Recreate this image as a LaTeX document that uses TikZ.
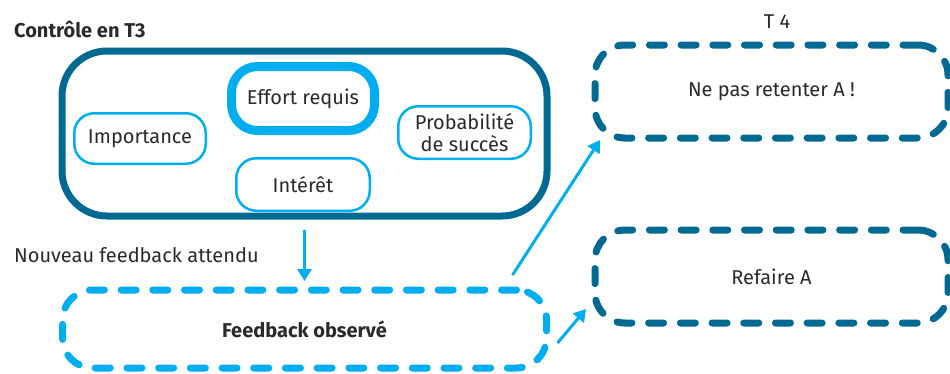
\documentclass[tikz,border=0pt]{standalone}
\usepackage{fontspec}
\setmainfont{Fira Sans}
\usepackage{xcolor}
\usepackage{tikz}
\usetikzlibrary{arrows.meta}

\definecolor{petrol}{HTML}{006991}
\definecolor{skyline}{HTML}{00AEEF}
\definecolor{inkgray}{HTML}{2A2A2A}

\begin{document}
\begin{tikzpicture}[
    x=1pt, y=-1pt,
    every node/.style={font=\fontsize{20}{22}\selectfont, text=inkgray},
    label/.style={inner sep=0pt},
    frame/.style={rectangle, draw=petrol, line width=7pt, rounded corners=45pt},
    factor/.style={rectangle, draw=skyline, line width=2.5pt, rounded corners=20pt, align=center},
    dashbox/.style={rectangle, draw=petrol, line width=7pt, line cap=round, dash pattern=on 15pt off 16.7pt, rounded corners=30pt},
    arrow/.style={-{Triangle[length=12pt,width=14pt]}, line width=3pt, skyline},
]
\useasboundingbox (0,0) rectangle (950,373);

% control block at T3
\node[label, anchor=base west, font=\fontsize{20}{22}\selectfont\bfseries] (title) at (14,37.5) {Contrôle en T3};
\node[frame, minimum width=485pt, minimum height=165pt] (ctrl) at (304.5,133.5) {};
\node[factor, line width=9pt, rounded corners=26pt, minimum width=143pt, minimum height=64pt] (effort) at (303,98.5) {Effort requis};
\node[factor, minimum width=131.5pt, minimum height=50.5pt] (importance) at (140,138.5) {Importance};
\node[factor, minimum width=133.5pt, minimum height=52.5pt] (interet) at (303,184.5) {Intérêt};
\node[factor, minimum width=132.5pt, minimum height=52.5pt] (proba) at (464.5,132.5) {Probabilité\\de succès};

% feedback
\node[label, anchor=base west] (attendu) at (14,262) {Nouveau feedback attendu};
\node[dashbox, draw=skyline, minimum width=484pt, minimum height=78pt, font=\fontsize{20}{22}\selectfont\bfseries] (fb) at (304.5,329) {Feedback observé};

% outcomes at T4
\node[label] (t4) at (777,22) {T 4};
\node[dashbox, minimum width=353pt, minimum height=93pt] (retenter) at (771.5,91.5) {Ne pas retenter A !};
\node[dashbox, minimum width=353pt, minimum height=93pt] (refaire) at (771.5,276.5) {Refaire A};

\draw[arrow, shorten <=10pt, shorten >=5.5pt] (ctrl) -- (fb);
\draw[arrow] ([xshift=-37.5pt,yshift=11.5pt]fb.north east) -- ([xshift=8.5pt,yshift=1.5pt]retenter.south west);
\draw[arrow] ([xshift=7.5pt,yshift=-14pt]fb.east) -- ([xshift=-5.5pt,yshift=17.5pt]refaire.south west);
\end{tikzpicture}
\end{document}
